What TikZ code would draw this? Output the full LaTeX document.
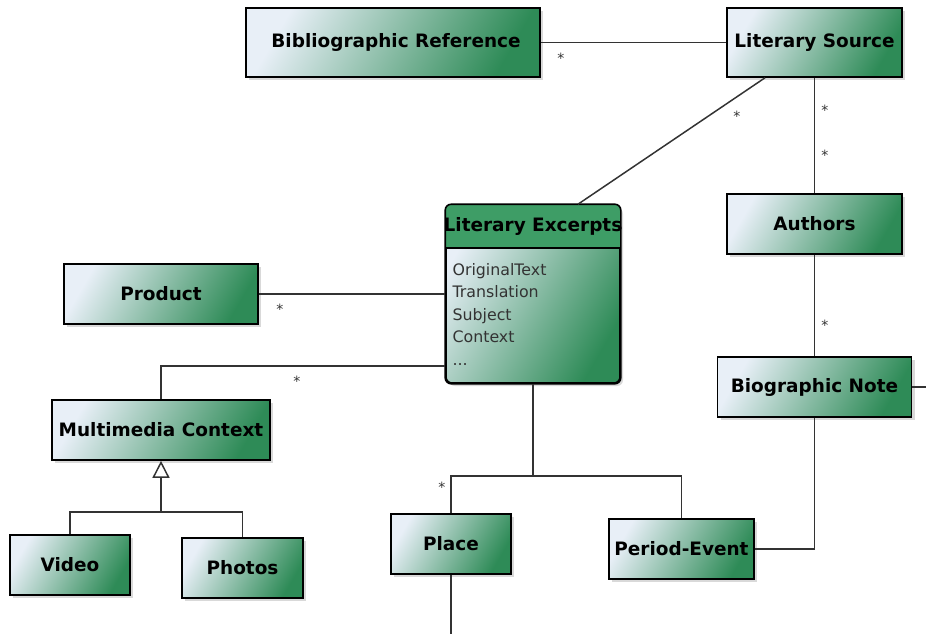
\documentclass[tikz,border=0pt]{standalone}
\usepackage{fontspec}
\newfontfamily\umlfont{DejaVu Sans}
\usetikzlibrary{positioning,arrows.meta,shadows,calc}

\definecolor{umllight}{HTML}{E8EFF7}
\definecolor{umlgreen}{HTML}{2E8B57}
\definecolor{umlhead}{HTML}{3E9D66}
\definecolor{umlline}{HTML}{333333}

\begin{document}
\begin{tikzpicture}[x=0.2mm, y=-0.2mm,
  umlclass/.style={rectangle, draw=black, line width=0.9pt,
    left color=umllight, right color=umlgreen, shading angle=60,
    drop shadow={opacity=0.3, shadow xshift=0.6mm, shadow yshift=-0.6mm},
    minimum height=12mm, inner sep=2pt,
    font={\umlfont\bfseries\fontsize{10.5}{12}\selectfont}},
  exctitle/.style={minimum height=8.6mm, inner sep=0pt,
    font={\umlfont\bfseries\fontsize{10.5}{12}\selectfont}},
  excbody/.style={align=left, inner sep=0pt, text=black!80,
    font={\umlfont\fontsize{9}{12.8}\selectfont}},
  assoc/.style={draw=umlline, line width=0.85pt},
  mult/.style={inner sep=0pt, text=umlline, font={\umlfont\fontsize{8}{9}\selectfont}}
]
\useasboundingbox (0,0) rectangle (926,634);

% classes
\node[umlclass, minimum width=58.8mm, minimum height=13.8mm] (bibref) at (393,42.5) {\hspace*{1.2mm}Bibliographic Reference};
\node[umlclass, minimum width=35mm, minimum height=13.8mm] (litsource) at (814.5,42.5) {Literary Source};
\node[umlclass, minimum width=35mm] (authors) at (814.5,224) {Authors};
\node[umlclass, minimum width=38.8mm] (bionote) at (814.5,387) {Biographic Note};
\node[umlclass, minimum width=38.8mm] (product) at (161,294) {Product};
\node[umlclass, minimum width=43.6mm] (multimedia) at (161,430) {Multimedia Context};
\node[umlclass, minimum width=24mm] (video) at (70,565) {Video};
\node[umlclass, minimum width=24.2mm] (photos) at (242.5,568) {Photos};
\node[umlclass, minimum width=24mm] (place) at (451,544) {Place};
\node[umlclass, minimum width=29mm] (period) at (681.5,549) {Period-Event};

% class with attributes
\node[umlclass, rounded corners=1.2mm, minimum width=34.8mm, minimum height=35.6mm] (excerpts) at (533,294) {};
\node[exctitle, anchor=north] (exctitle) at (excerpts.north) {Literary Excerpts};
\begin{scope}
  \clip[rounded corners=1.2mm] (excerpts.north west) rectangle (excerpts.south east);
  \fill[umlhead] (excerpts.north west) rectangle (excerpts.east |- exctitle.south);
\end{scope}
\node[exctitle, anchor=north] at (excerpts.north) {Literary Excerpts};
\draw[line width=0.9pt, rounded corners=1.2mm] (excerpts.north west) rectangle (excerpts.south east);
\draw[line width=0.9pt] (excerpts.west |- exctitle.south) -- (excerpts.east |- exctitle.south);
\node[excbody, anchor=north west] (excattrs) at ([xshift=1.4mm, yshift=-3mm] excerpts.west |- exctitle.south)
  {OriginalText\\Translation\\Subject\\Context\\...};

% helper points
\coordinate (genjoin) at (161,512);
\coordinate (excjoin) at (533,476);
\coordinate (edgeR) at (926,387);
\coordinate (edgeB) at (451,634);

% associations
\draw[assoc] (bibref) -- (litsource);
\draw[assoc] ([xshift=-9.9mm]litsource.south) -- ([xshift=9mm]excerpts.north);
\draw[assoc] (litsource) -- (authors);
\draw[assoc] (authors) -- (bionote);
\draw[assoc] (bionote.east) -- (edgeR);
\draw[assoc] (bionote.south) |- (period.east);
\draw[assoc] (product.east) -- (product.east -| excerpts.west);
\draw[assoc] ([yshift=3.6mm]excerpts.south west) -| (multimedia.north);
\draw[assoc] (excerpts.south) -- (excjoin);
\draw[assoc] (excjoin) -| (place.north);
\draw[assoc] (excjoin) -| (period.north);
\draw[assoc] (place.south) -- (edgeB);

% generalization
\draw[assoc] (video.north) |- (genjoin);
\draw[assoc] (photos.north) |- (genjoin);
\draw[assoc, -{Triangle[open, length=3.4mm, width=3.4mm]}] (genjoin) -- (multimedia.south);

% multiplicities
\node[mult] (m1) at (561,58) {*};
\node[mult] (m2) at (737,116) {*};
\node[mult] (m3) at (825,110) {*};
\node[mult] (m4) at (825,155) {*};
\node[mult] (m5) at (825,325) {*};
\node[mult] (m6) at (280,309) {*};
\node[mult] (m7) at (297,381) {*};
\node[mult] (m8) at (442,487) {*};
\end{tikzpicture}
\end{document}
